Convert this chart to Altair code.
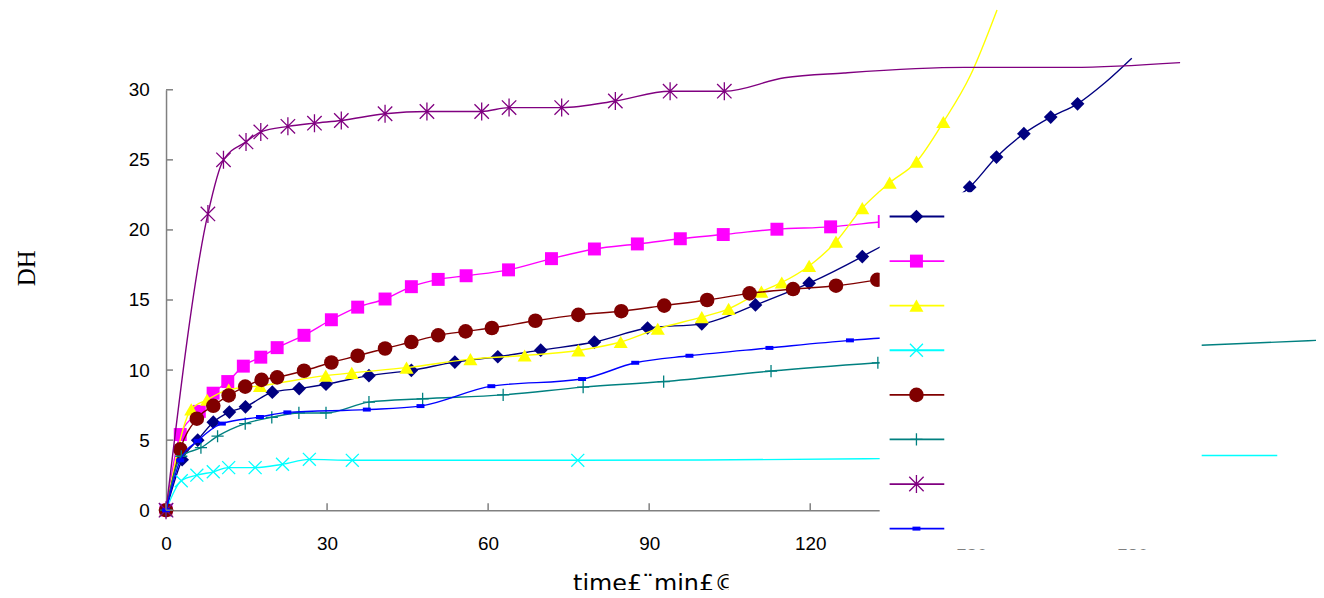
import altair as alt
import pandas as pd

# ---------------- data ----------------
# series 1: navy diamonds
t1 = [0, 3, 5.9, 8.8, 11.8, 14.8, 19.8, 24.8, 29.8, 37.8, 45.7, 53.8, 61.8, 69.8, 79.8,
      89.7, 99.8, 109.8, 119.8, 129.7, 139.7, 144.7, 149.7, 154.7, 159.8, 164.8, 169.8]
d1 = [0, 3.6, 5.0, 6.28, 7.0, 7.38, 8.42, 8.68, 8.99, 9.6, 9.98, 10.57, 10.95, 11.42, 12.0,
      13.0, 13.3, 14.65, 16.2, 18.1, 20.3, 21.7, 23.05, 25.2, 26.87, 28.05, 29.0]
t1_tail = [174.9, 179.9]
d1_tail = [30.5, 32.25]

# series 2: magenta squares
t2 = [0, 2.65, 6.2, 8.77, 11.5, 14.4, 17.65, 20.7, 25.7, 30.8, 35.7, 40.8, 45.7, 50.7, 55.9,
      63.8, 71.8, 79.8, 87.8, 95.8, 103.8, 113.8, 123.8, 133.8, 143.8]
d2 = [0, 5.4, 7.05, 8.35, 9.18, 10.28, 10.92, 11.6, 12.48, 13.59, 14.49, 15.07, 15.95, 16.47, 16.73,
      17.15, 17.95, 18.64, 19.0, 19.37, 19.67, 20.05, 20.22, 20.6, 20.9]
t2_tail = []
d2_tail = []

# series 3: yellow triangles
t3 = [0, 4.7, 7.65, 11.67, 17.5, 29.75, 34.6, 44.8, 56.7, 66.8, 76.8, 84.7, 91.6, 99.8, 104.8,
      110.9, 114.7, 119.8, 124.8, 129.7, 134.8, 139.8, 144.8]
d3 = [0, 7.2, 7.88, 8.6, 8.87, 9.6, 9.8, 10.17, 10.78, 11.04, 11.4, 12.0, 12.95, 13.78, 14.37,
      15.6, 16.25, 17.43, 19.16, 21.56, 23.37, 24.87, 27.7]
t3_tail = [149.8, 154.8]
d3_tail = [31.0, 35.7]

# series 4: cyan crosses
t4 = [0, 2.84, 5.74, 8.8, 11.67, 16.6, 21.7, 26.7, 34.7, 76.7]
d4 = [0, 2.1, 2.5, 2.74, 3.04, 3.04, 3.28, 3.63, 3.56, 3.56]
t4_tail = [100, 133, 193, 207]
d4_tail = [3.58, 3.68, 3.9, 3.9]

# series 5: maroon circles
t5 = [0, 2.65, 5.74, 8.8, 11.67, 14.75, 17.8, 20.7, 25.7, 30.8, 35.7, 40.8, 45.7, 50.7, 55.8,
      60.7, 68.8, 76.8, 84.8, 92.8, 100.8, 108.7, 116.8, 124.8, 132.5]
d5 = [0, 4.34, 6.53, 7.45, 8.19, 8.82, 9.3, 9.48, 9.95, 10.54, 11.02, 11.54, 12.0, 12.48, 12.76,
      13.0, 13.52, 13.94, 14.2, 14.6, 15.0, 15.47, 15.78, 16.02, 16.44]
t5_tail = []
d5_tail = []

# series 6: teal plus signs
t6 = [0, 2.84, 6.5, 9.6, 14.75, 19.7, 24.75, 29.8, 37.8, 47.8, 62.8, 77.7, 92.7, 112.7, 132.6]
d6 = [0, 3.85, 4.46, 5.28, 6.18, 6.63, 6.94, 6.94, 7.71, 7.95, 8.23, 8.78, 9.18, 9.93, 10.52]
t6_tail = [192.8, 215]
d6_tail = [11.77, 12.13]

# series 7: purple asterisks
t7 = [0, 7.8, 10.7, 14.9, 17.65, 22.7, 27.65, 32.65, 40.8, 48.6, 58.8, 63.9, 73.7, 83.7, 93.9, 104]
d7 = [0, 21.14, 25.0, 26.28, 26.99, 27.39, 27.62, 27.81, 28.29, 28.45, 28.45, 28.73, 28.73, 29.2, 29.9, 29.9]
t7_tail = [115.2, 126.3, 148.7, 168.8, 188.9]
d7_tail = [30.86, 31.2, 31.6, 31.6, 31.94]

# series 8: blue dashes
t8 = [0, 2.65, 5.9, 10.4, 17.5, 22.6, 37.4, 47.4, 60.6, 77.5, 87.4, 97.5, 112.4, 127.4]
d8 = [0, 3.56, 4.95, 6.18, 6.65, 6.98, 7.18, 7.43, 8.85, 9.36, 10.52, 11.02, 11.58, 12.12]
t8_tail = [142.4]
d8_tail = [12.5]

x_ticks = [0, 30, 60, 90, 120, 150, 180]
y_ticks = [0, 5, 10, 15, 20, 25, 30]

colors = ["#000080", "#FF00FF", "#FFFF00", "#00FFFF", "#800000", "#008080", "#800080", "#0000FF"]
shapes = ["diamond", "square", "triangle-up",
          "M-1,-1L1,1M-1,1L1,-1",
          "circle",
          "M-1,0L1,0M0,-1L0,1",
          "M-1,-1L1,1M-1,1L1,-1M0,-1.25L0,1.25",
          "M-1,-0.5L1,-0.5L1,0.5L-1,0.5Z"]
filled = [True, True, True, False, True, False, False, True]
sizes = [190, 170, 200, 170, 215, 150, 210, 64]

series = [(t1, d1, t1_tail, d1_tail), (t2, d2, t2_tail, d2_tail), (t3, d3, t3_tail, d3_tail),
          (t4, d4, t4_tail, d4_tail), (t5, d5, t5_tail, d5_tail), (t6, d6, t6_tail, d6_tail),
          (t7, d7, t7_tail, d7_tail), (t8, d8, t8_tail, d8_tail)]

# ---------------- layout ----------------
X_MAX = 192
W = round(X_MAX * 5.4)
H = 423
LEFT, TOP = 159, 80.5
TOTAL_W, TOTAL_H = 1316, 582

xscale = alt.Scale(domain=[0, X_MAX], nice=False, zero=False)
yscale = alt.Scale(domain=[0, 30], nice=False, zero=False)

xaxis = alt.Axis(values=x_ticks, ticks=False, grid=False, labelFlush=False, labelOverlap=False,
                 labelFont="Liberation Sans", labelFontSize=19, labelColor="#000000", labelPadding=25,
                 domainColor="#808080", domainWidth=1.5,
                 title="time£¨min£©", titleFont="DejaVu Sans", titleFontSize=24, titleFontWeight="normal",
                 titleColor="#000000", titleAlign="left", titleBaseline="alphabetic",
                 titleX=409, titleY=80.5)
yaxis = alt.Axis(values=y_ticks, ticks=False, grid=False, labelOverlap=False,
                 labelFont="Liberation Sans", labelFontSize=19, labelColor="#000000", labelPadding=17,
                 domainColor="#808080", domainWidth=1.5,
                 title="DH", titleFont="Liberation Serif", titleFontSize=25, titleFontWeight="normal",
                 titleColor="#000000", titleAngle=270, titleAlign="center", titleBaseline="alphabetic",
                 titleX=-132.7, titleY=179)

X = alt.X("t:Q", scale=xscale, axis=xaxis)
Y = alt.Y("dh:Q", scale=yscale, axis=yaxis)

layers = []
for i, (tx, dy, ttx, tdy) in enumerate(series):
    line_df = pd.DataFrame({"t": tx + ttx, "dh": dy + tdy})
    pt_df = pd.DataFrame({"t": tx, "dh": dy})
    layers.append(alt.Chart(line_df).mark_line(color=colors[i], strokeWidth=1.4,
                                               interpolate="monotone").encode(x=X, y=Y))
    layers.append(alt.Chart(pt_df).mark_point(shape=shapes[i], filled=filled[i], size=sizes[i],
                                              color=colors[i], opacity=1, strokeWidth=1.3).encode(x=X, y=Y))

# inward tick marks
layers.append(alt.Chart(pd.DataFrame({"dh": y_ticks})).mark_rule(color="#808080", strokeWidth=1.5)
              .encode(y=Y, x=alt.value(0), x2=alt.value(7)))
layers.append(alt.Chart(pd.DataFrame({"t": x_ticks})).mark_rule(color="#808080", strokeWidth=1.5)
              .encode(x=X, y=alt.value(H), y2=alt.value(H - 7)))

one = pd.DataFrame({"k": [1]})
# legend box (white, unlabeled entries)
layers.append(alt.Chart(one).mark_rect(color="#FFFFFF", opacity=1)
              .encode(x=alt.value(718), x2=alt.value(1042), y=alt.value(103), y2=alt.value(462.5)))
for i in range(8):
    ly = 127.5 + i * 44.86
    layers.append(alt.Chart(one).mark_rule(color=colors[i], strokeWidth=1.8)
                  .encode(x=alt.value(728), x2=alt.value(783), y=alt.value(ly)))
    layers.append(alt.Chart(one).mark_point(shape=shapes[i], filled=filled[i], size=sizes[i],
                                            color=colors[i], opacity=1, strokeWidth=1.3)
                  .encode(x=alt.value(755), y=alt.value(ly)))

# area that hides the end of the x title
layers.append(alt.Chart(one).mark_rect(color="#FFFFFF", opacity=1)
              .encode(x=alt.value(566), x2=alt.value(1160), y=alt.value(473.5), y2=alt.value(512)))

chart = alt.layer(*layers).properties(
    width=W, height=H,
    autosize=alt.AutoSizeParams(type="none"),
    padding={"left": LEFT, "top": TOP, "right": TOTAL_W - LEFT - W, "bottom": TOTAL_H - TOP - H},
    background="#FFFFFF",
).configure_view(strokeWidth=0)

chart.save("out.html", embed_options={"renderer": "svg", "actions": False})
